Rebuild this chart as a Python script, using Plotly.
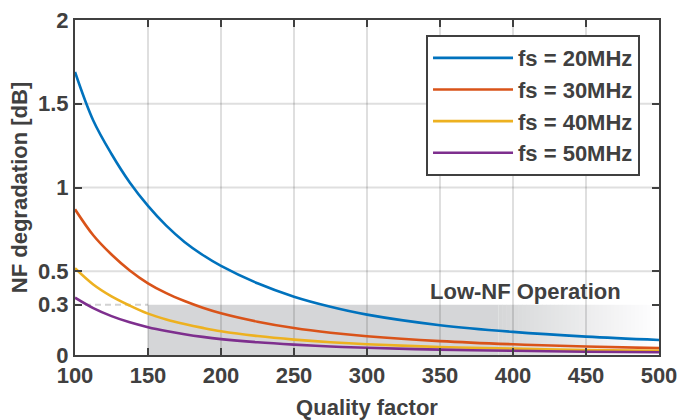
import plotly.graph_objects as go

# ---- data ----
quality = [100, 112.5, 125, 137.5, 150, 162.5, 175, 187.5, 200, 225, 250, 275, 300, 350, 400, 450, 500]
nf_20 = [1.69, 1.40, 1.20, 1.03, 0.89, 0.772, 0.675, 0.597, 0.532, 0.428, 0.348, 0.288, 0.241, 0.178, 0.138, 0.110, 0.090]
nf_30 = [0.87, 0.715, 0.60, 0.505, 0.428, 0.369, 0.322, 0.282, 0.249, 0.199, 0.161, 0.133, 0.112, 0.083, 0.064, 0.051, 0.041]
nf_40 = [0.518, 0.421, 0.35, 0.295, 0.247, 0.212, 0.185, 0.162, 0.142, 0.113, 0.092, 0.076, 0.064, 0.048, 0.038, 0.030, 0.025]
nf_50 = [0.342, 0.280, 0.232, 0.195, 0.166, 0.143, 0.124, 0.108, 0.095, 0.076, 0.062, 0.051, 0.043, 0.032, 0.025, 0.019, 0.016]
series_names = ["fs = 20MHz", "fs = 30MHz", "fs = 40MHz", "fs = 50MHz"]
series_vals = [nf_20, nf_30, nf_40, nf_50]
colors = ["#0072BD", "#D95319", "#EDB120", "#7E2F8E"]

x_ticks = [100, 150, 200, 250, 300, 350, 400, 450, 500]
y_ticks = [0, 0.3, 0.5, 1, 1.5, 2]
y_grid = [0.5, 1, 1.5]
low_nf_threshold = 0.3
low_nf_q = [150, 500]
fade_start = 390
label_pos = (408.5, 0.378)

FONT = "Liberation Sans, Arial, sans-serif"
TXT = "#404040"
GRID = "rgba(38,38,38,0.15)"

fig = go.Figure()
for name, vals, c in zip(series_names, series_vals, colors):
    fig.add_trace(go.Scatter(x=quality, y=vals, mode="lines", name=name,
                             line=dict(color=c, width=2.6, shape="spline", smoothing=1.0)))

shapes = []
# shaded low-NF region with right-hand fade
g0 = (213, 214, 216)
shapes.append(dict(type="rect", xref="x", yref="y", x0=low_nf_q[0], x1=fade_start,
                   y0=0, y1=low_nf_threshold, fillcolor="rgb(%d,%d,%d)" % g0,
                   line=dict(width=0), layer="below"))
n = 40
step = (low_nf_q[1] - fade_start) / n
for i in range(n):
    t = (i + 0.5) / n
    col = tuple(int(round(c + (255 - c) * t)) for c in g0)
    shapes.append(dict(type="rect", xref="x", yref="y", x0=fade_start + i * step,
                       x1=fade_start + (i + 1) * step + 0.3, y0=0, y1=low_nf_threshold,
                       fillcolor="rgb(%d,%d,%d)" % col, line=dict(width=0), layer="below"))
# dashed threshold line left of shaded area
shapes.append(dict(type="line", xref="x", yref="y", x0=quality[0], x1=low_nf_q[0],
                   y0=low_nf_threshold, y1=low_nf_threshold,
                   line=dict(color="#d2d2d2", width=2, dash="6px,4px"), layer="below"))
# horizontal grid lines
for gy in y_grid:
    shapes.append(dict(type="line", xref="paper", yref="y", x0=0, x1=1, y0=gy, y1=gy,
                       line=dict(color=GRID, width=2), layer="below"))

fig.update_layout(
    width=678, height=420,
    margin=dict(l=75, r=19, t=20, b=65),
    paper_bgcolor="white", plot_bgcolor="white",
    font=dict(family=FONT, size=22, color=TXT),
    shapes=shapes,
    showlegend=True,
    legend=dict(x=0.9675, y=0.955, xanchor="right", yanchor="top",
                bgcolor="white", bordercolor="#404040", borderwidth=2,
                font=dict(family=FONT, size=22, color=TXT, weight="bold"),
                itemwidth=80, tracegroupgap=0),
    annotations=[dict(x=label_pos[0], y=label_pos[1], xref="x", yref="y",
                      text="<b>Low-NF Operation</b>", showarrow=False,
                      font=dict(family=FONT, size=22, color=TXT))],
)

fig.update_xaxes(range=[100, 500], tickvals=x_ticks, ticktext=[str(v) for v in x_ticks],
                 showgrid=True, gridcolor=GRID, gridwidth=2,
                 showline=True, linecolor="#404040", linewidth=2, mirror="allticks",
                 ticks="inside", ticklen=7, tickwidth=2, tickcolor="#404040",
                 tickfont=dict(family=FONT, size=22, color=TXT, weight="bold"),
                 zeroline=False, automargin=False,
                 title=dict(text="<b>Quality factor</b>", standoff=14,
                            font=dict(family=FONT, size=22, color=TXT)))
fig.update_yaxes(range=[0, 2], tickvals=y_ticks, ticktext=["0", "0.3", "0.5", "1", "1.5", "2"],
                 showgrid=False,
                 showline=True, linecolor="#404040", linewidth=2, mirror="allticks",
                 ticks="inside", ticklen=7, tickwidth=2, tickcolor="#404040",
                 tickfont=dict(family=FONT, size=22, color=TXT, weight="bold"),
                 zeroline=False, automargin=False,
                 title=dict(text="<b>NF degradation [dB]</b>", standoff=4,
                            font=dict(family=FONT, size=22, color=TXT)))

fig.write_html("out.html")
